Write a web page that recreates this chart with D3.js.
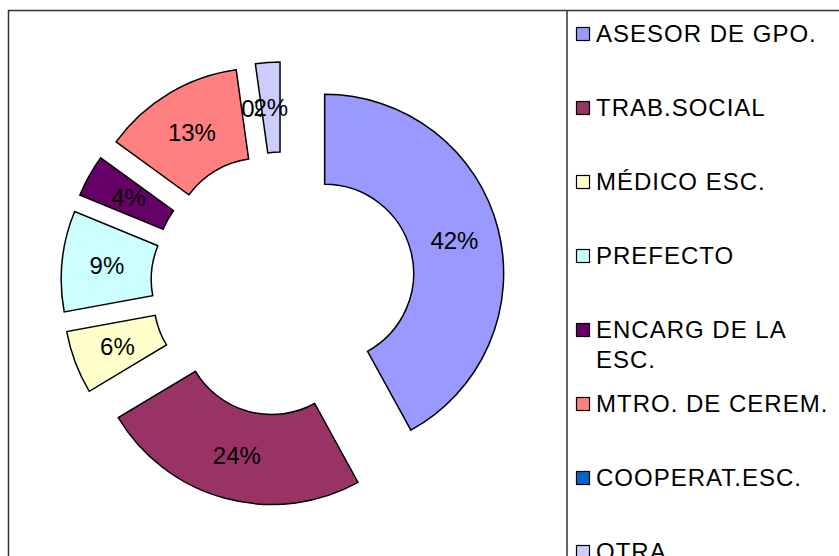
<!DOCTYPE html>
<html><head><meta charset="utf-8">
<script src="https://cdn.jsdelivr.net/npm/d3@7"></script>
<style>
html,body{margin:0;padding:0;background:#fff;}
svg{display:block;}
text{font-family:"Liberation Sans",Arial,sans-serif;}
</style></head>
<body>
<svg id="chart" width="839" height="556"></svg>
<script>
const categories = ["ASESOR DE GPO.","TRAB.SOCIAL","MÉDICO ESC.","PREFECTO","ENCARG DE LA ESC.","MTRO. DE CEREM.","COOPERAT.ESC.","OTRA"];
const legendLines = [["ASESOR DE GPO."],["TRAB.SOCIAL"],["MÉDICO ESC."],["PREFECTO"],["ENCARG DE LA","ESC."],["MTRO. DE CEREM."],["COOPERAT.ESC."],["OTRA"]];
const values = [42, 24.4, 5.7, 9.1, 3.8, 12.8, 0, 2.2];
const colors = ["#9999FF","#993366","#FFFFCC","#CCFFFF","#660066","#FF8080","#0066CC","#CCCCFF"];

const svg = d3.select("#chart");
const W = 839, H = 556;

// frame
svg.append("path").attr("d", `M8.5,${H+2} V10.5 H${W+2}`).attr("fill","none").attr("stroke","#333").attr("stroke-width",1.5);
svg.append("line").attr("x1",567).attr("x2",567).attr("y1",10.5).attr("y2",H+2).attr("stroke","#333").attr("stroke-width",1.5);

const cx = 283, cy = 284, R = 179, r = 89, explode = 43;
const total = d3.sum(values);
const pie = d3.pie().value(d => d).sort(null).startAngle(0).endAngle(2*Math.PI);
const arcs = pie(values);
const arc = d3.arc().innerRadius(r).outerRadius(R);
const g = svg.append("g").attr("transform", `translate(${cx},${cy})`);

const slices = g.selectAll("g.slice").data(arcs).enter().append("g")
  .attr("class","slice")
  .attr("transform", d => {
    const m = (d.startAngle + d.endAngle)/2;
    return `translate(${explode*Math.sin(m)},${-explode*Math.cos(m)})`;
  });
slices.filter(d => d.value > 0).append("path")
  .attr("d", arc)
  .attr("fill", d => colors[d.index])
  .attr("stroke", "#000")
  .attr("stroke-width", 1.5)
  .attr("stroke-linejoin","miter");
slices.append("text")
  .attr("transform", d => `translate(${arc.centroid(d)})`)
  .attr("text-anchor","middle")
  .attr("dy","0.36em")
  .attr("font-size", 24)
  .attr("fill","#000")
  .text(d => Math.round(d.value/total*100) + "%");

// legend
const lg = svg.append("g");
const rowY = d3.scaleLinear().domain([0,1]).range([42,116]);
categories.forEach((c,i) => {
  const y = rowY(i);
  lg.append("rect").attr("x",576.5).attr("y",y-14.5).attr("width",13).attr("height",13)
    .attr("fill",colors[i]).attr("stroke","#000").attr("stroke-width",1.2);
  const t = lg.append("text").attr("x",596).attr("y",y).attr("font-size",24).attr("letter-spacing",1.0).attr("fill","#000");
  legendLines[i].forEach((ln,j) => {
    t.append("tspan").attr("x",596).attr("y", y + j*30).text(ln);
  });
});
</script>
</body></html>
